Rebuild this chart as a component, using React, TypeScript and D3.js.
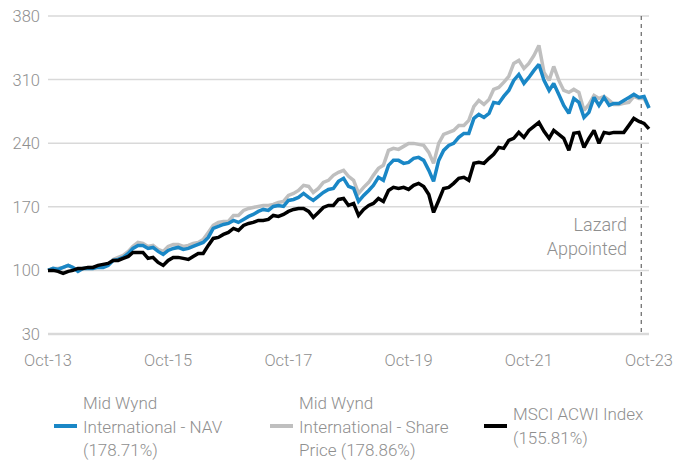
import React, { useRef, useEffect } from 'react';
import * as d3 from 'd3';

// monthly observations, Oct-13 .. Oct-23 (rebased to 100)
const startMonth = new Date(2013, 9, 1);
const endMonth = new Date(2023, 9, 1);

const navValues = [
  100.0, 102.2, 101.1, 103.3, 105.5, 103.3, 98.9, 102.2, 102.2, 102.2, 103.3, 103.3,
  105.5, 111.0, 112.1, 114.3, 118.7, 124.2, 127.5, 127.5, 124.2, 125.3, 120.9, 117.6,
  122.0, 124.2, 125.3, 123.1, 124.2, 126.4, 128.6, 130.8, 136.3, 146.2, 148.4, 150.6,
  151.7, 155.0, 152.8, 156.1, 159.4, 161.6, 164.9, 167.1, 166.0, 170.4, 171.5, 170.4,
  177.0, 178.1, 180.3, 184.7, 180.3, 177.0, 181.4, 185.8, 189.1, 190.2, 198.0, 201.3,
  192.4, 190.2, 175.9, 182.5, 188.0, 193.6, 202.4, 199.1, 215.6, 221.1, 221.1, 217.8,
  218.9, 223.3, 224.4, 221.1, 210.1, 198.0, 221.1, 232.1, 237.6, 239.8, 246.4, 250.8,
  250.8, 267.3, 271.7, 268.4, 272.8, 284.9, 283.8, 291.5, 298.1, 309.1, 315.7, 305.8,
  312.4, 320.1, 326.7, 309.1, 298.1, 305.8, 293.7, 281.6, 272.8, 289.3, 284.9, 268.4,
  273.9, 290.4, 281.6, 290.4, 281.6, 283.8, 283.8, 287.1, 290.4, 293.7, 290.4, 291.5,
  278.7,
];

const shareValues = [
  100.0, 102.2, 102.2, 103.3, 105.5, 103.3, 100.0, 102.2, 103.3, 103.3, 104.4, 104.4,
  106.6, 112.1, 114.3, 116.5, 120.9, 126.4, 130.8, 129.7, 126.4, 127.5, 123.1, 120.9,
  126.4, 128.6, 128.6, 126.4, 127.5, 129.7, 130.8, 134.1, 141.8, 149.5, 152.8, 153.9,
  153.9, 160.5, 160.5, 166.0, 168.2, 169.3, 170.4, 171.5, 171.5, 172.6, 174.8, 175.9,
  182.5, 184.7, 188.0, 193.6, 192.4, 185.8, 190.2, 196.9, 199.1, 204.6, 207.9, 210.1,
  203.5, 199.1, 184.7, 191.4, 196.9, 204.6, 212.3, 215.6, 232.1, 234.3, 233.2, 236.5,
  239.8, 239.8, 238.7, 237.6, 229.9, 217.8, 239.8, 249.7, 251.9, 254.1, 259.6, 259.6,
  265.1, 280.5, 287.1, 282.7, 288.2, 299.2, 301.4, 306.9, 313.5, 327.8, 331.1, 322.3,
  327.8, 336.6, 347.6, 317.9, 309.1, 324.5, 309.1, 298.1, 295.9, 299.2, 295.9, 276.1,
  282.7, 292.6, 289.3, 291.5, 287.1, 282.7, 282.7, 283.8, 284.9, 291.5, 289.3, 289.3,
  278.9,
];

const msciValues = [
  100.0, 100.0, 98.9, 96.7, 98.9, 100.0, 102.2, 102.2, 103.3, 103.3, 105.5, 106.6,
  107.7, 111.0, 111.0, 113.2, 115.4, 119.8, 119.8, 119.8, 113.2, 114.3, 108.8, 105.5,
  111.0, 114.3, 114.3, 113.2, 112.1, 115.4, 118.7, 118.7, 127.5, 135.2, 136.3, 139.6,
  141.8, 146.2, 144.0, 149.5, 151.7, 152.8, 155.0, 155.0, 156.1, 160.5, 159.4, 161.6,
  164.9, 167.1, 168.2, 168.2, 164.9, 158.3, 163.8, 169.3, 171.5, 171.5, 178.1, 179.2,
  171.5, 173.7, 160.5, 167.1, 171.5, 173.7, 179.2, 175.9, 188.0, 191.4, 190.2, 191.4,
  189.1, 193.6, 195.8, 192.4, 183.6, 163.8, 177.0, 190.2, 191.4, 195.8, 201.3, 202.4,
  199.1, 217.8, 218.9, 217.8, 223.3, 227.7, 235.4, 234.3, 243.1, 245.3, 251.9, 246.4,
  254.1, 258.5, 262.9, 253.0, 245.3, 254.1, 249.7, 245.3, 232.1, 250.8, 251.9, 235.4,
  245.3, 254.1, 239.8, 251.9, 250.8, 251.9, 251.9, 251.9, 259.6, 267.3, 264.0, 261.8,
  255.8,
];

const yTicks = [30, 100, 170, 240, 310, 380];
const xTickLabels = ['Oct-13', 'Oct-15', 'Oct-17', 'Oct-19', 'Oct-21', 'Oct-23'];
const lazardDate = new Date(2023, 7, 15);
const lazardLabel = ['Lazard', 'Appointed'];

const seriesNames = [
  ['Mid Wynd', 'International - NAV', '(178.71%)'],
  ['Mid Wynd', 'International - Share', 'Price (178.86%)'],
  ['MSCI ACWI Index', '(155.81%)'],
];
const seriesColors = ['#1a87c6', '#bfbfbf', '#000000'];

const App = () => {
  const svgRef = useRef(null);

  useEffect(() => {
    const width = 675;
    const height = 461;
    const font = 'Roboto, "Noto Sans", sans-serif';
    const textColor = '#8f8f8f';

    const months = d3.timeMonth.range(startMonth, d3.timeMonth.offset(endMonth, 1));
    const parseTick = d3.timeParse('%b-%y');

    const xScale = d3.scaleTime().domain([startMonth, endMonth]).range([48, 649]);
    const yScale = d3.scaleLinear().domain([30, 380]).range([334, 16]);

    const svg = d3.select(svgRef.current)
      .attr('width', width)
      .attr('height', height);

    svg.selectAll('*').remove();

    // Gridlines + y labels
    svg.append('g')
      .selectAll('line')
      .data(yTicks)
      .enter().append('line')
      .attr('x1', 48)
      .attr('x2', 649)
      .attr('y1', d => yScale(d))
      .attr('y2', d => yScale(d))
      .attr('stroke', '#d9d9d9')
      .attr('stroke-width', d => (d === 30 ? 2.5 : 1.5));

    svg.append('g')
      .selectAll('text')
      .data(yTicks)
      .enter().append('text')
      .attr('x', 40)
      .attr('y', d => yScale(d))
      .attr('dy', '0.36em')
      .attr('text-anchor', 'end')
      .attr('font-family', font)
      .attr('font-weight', 300)
      .attr('font-size', 16.5)
      .attr('fill', textColor)
      .text(d => d);

    // x labels
    svg.append('g')
      .selectAll('text')
      .data(xTickLabels)
      .enter().append('text')
      .attr('x', d => xScale(parseTick(d)))
      .attr('y', 366)
      .attr('text-anchor', 'middle')
      .attr('font-family', font)
      .attr('font-weight', 300)
      .attr('font-size', 16.5)
      .attr('fill', textColor)
      .text(d => d);

    // Lazard marker
    svg.append('line')
      .attr('x1', xScale(lazardDate))
      .attr('x2', xScale(lazardDate))
      .attr('y1', 16)
      .attr('y2', 334)
      .attr('stroke', '#666')
      .attr('stroke-width', 1.2)
      .attr('stroke-dasharray', '4,4');

    svg.append('g')
      .selectAll('text')
      .data(lazardLabel)
      .enter().append('text')
      .attr('x', 627)
      .attr('y', (d, i) => 231 + i * 24)
      .attr('text-anchor', 'end')
      .attr('font-family', font)
      .attr('font-weight', 300)
      .attr('font-size', 18)
      .attr('fill', textColor)
      .text(d => d);

    // Lines
    const line = d3.line()
      .x((d, i) => xScale(months[i]))
      .y(d => yScale(d))
      .curve(d3.curveLinear);

    const drawOrder = [
      { values: shareValues, color: seriesColors[1] },
      { values: navValues, color: seriesColors[0] },
      { values: msciValues, color: seriesColors[2] },
    ];

    drawOrder.forEach(s => {
      svg.append('path')
        .datum(s.values)
        .attr('d', line)
        .attr('fill', 'none')
        .attr('stroke', s.color)
        .attr('stroke-width', 3.5)
        .attr('stroke-linejoin', 'miter')
        .attr('stroke-miterlimit', 2);
    });

    // Legend
    const legendX = [54, 270, 484];
    const legend = svg.append('g')
      .selectAll('g')
      .data(seriesNames)
      .enter().append('g')
      .attr('transform', (d, i) => `translate(${legendX[i]},0)`);

    legend.append('rect')
      .attr('x', 0)
      .attr('y', 424)
      .attr('width', 23)
      .attr('height', 4)
      .attr('fill', (d, i) => seriesColors[i]);

    legend.each(function (lines) {
      const startY = lines.length === 3 ? 409 : 420;
      d3.select(this).selectAll('text')
        .data(lines)
        .enter().append('text')
        .attr('x', 29)
        .attr('y', (d, i) => startY + i * 23.5)
        .attr('font-family', font)
        .attr('font-weight', 300)
        .attr('font-size', 17)
        .attr('fill', textColor)
        .text(d => d);
    });
  }, []);

  return (
    <svg ref={svgRef} style={{ position: 'absolute', left: 0, top: 0 }}></svg>
  );
};

export default App;
